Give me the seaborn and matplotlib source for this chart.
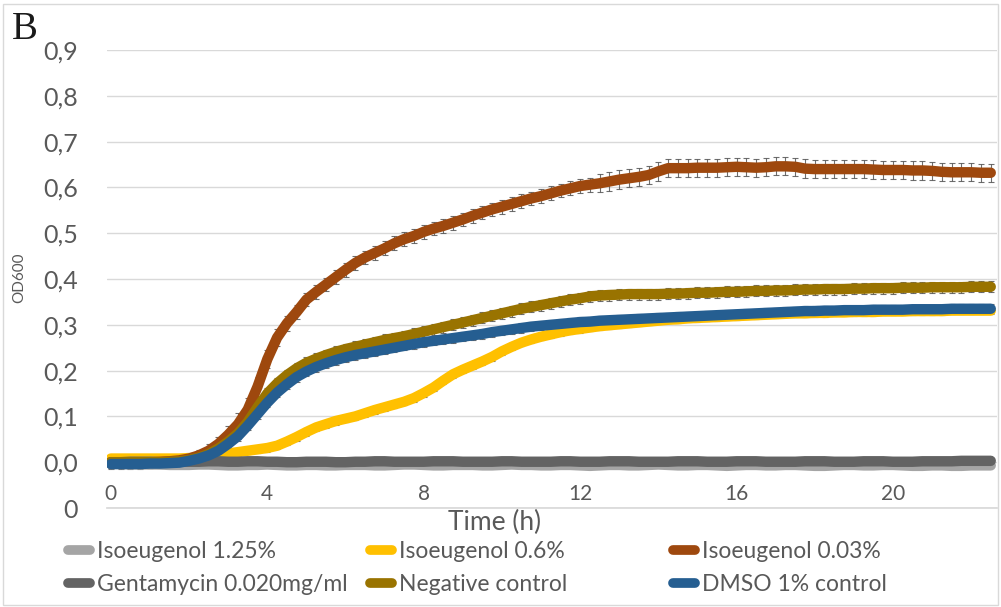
import numpy as np
import pandas as pd
import seaborn as sns
import matplotlib.pyplot as plt
from matplotlib.lines import Line2D
from matplotlib.patches import Rectangle

# readings every 15 min, 0 -> 22.5 h
time = np.arange(0, 22.51, 0.25)

iso_125 = [-0.004, -0.004, -0.005, -0.005, -0.005, -0.005, -0.006, -0.006, -0.006, -0.005,
           -0.005, -0.006, -0.007, -0.007, -0.006, -0.006, -0.005, -0.006, -0.007, -0.007,
           -0.006, -0.006, -0.007, -0.007, -0.006, -0.006, -0.006, -0.007, -0.007, -0.006,
           -0.005, -0.005, -0.006, -0.007, -0.007, -0.006, -0.006, -0.006, -0.007, -0.007,
           -0.006, -0.005, -0.006, -0.006, -0.007, -0.007, -0.006, -0.006, -0.007, -0.008,
           -0.007, -0.006, -0.006, -0.007, -0.007, -0.006, -0.005, -0.006, -0.007, -0.007,
           -0.006, -0.006, -0.007, -0.008, -0.007, -0.006, -0.006, -0.007, -0.007, -0.006,
           -0.006, -0.007, -0.008, -0.008, -0.007, -0.006, -0.006, -0.007, -0.007, -0.006,
           -0.006, -0.007, -0.008, -0.008, -0.007, -0.007, -0.008, -0.008, -0.007, -0.007,
           -0.007]
iso_06 = [0.008, 0.008, 0.008, 0.008, 0.008, 0.008, 0.008, 0.008, 0.009, 0.010,
          0.012, 0.015, 0.019, 0.022, 0.025, 0.028, 0.031, 0.036, 0.045, 0.055,
          0.066, 0.076, 0.083, 0.090, 0.095, 0.100, 0.107, 0.114, 0.120, 0.126,
          0.132, 0.140, 0.151, 0.163, 0.178, 0.192, 0.202, 0.211, 0.220, 0.230,
          0.242, 0.252, 0.261, 0.268, 0.274, 0.279, 0.284, 0.288, 0.291, 0.294,
          0.297, 0.299, 0.301, 0.303, 0.305, 0.307, 0.309, 0.311, 0.312, 0.314,
          0.315, 0.316, 0.317, 0.318, 0.319, 0.320, 0.321, 0.322, 0.323, 0.324,
          0.325, 0.325, 0.326, 0.326, 0.327, 0.327, 0.328, 0.328, 0.328, 0.329,
          0.329, 0.329, 0.330, 0.330, 0.330, 0.330, 0.331, 0.331, 0.331, 0.331,
          0.331]
iso_003 = [0.000, 0.000, 0.000, 0.000, 0.000, 0.001, 0.002, 0.004, 0.008, 0.015,
           0.025, 0.040, 0.060, 0.083, 0.115, 0.165, 0.225, 0.272, 0.303, 0.328,
           0.355, 0.372, 0.388, 0.404, 0.420, 0.435, 0.447, 0.457, 0.467, 0.478,
           0.487, 0.494, 0.503, 0.510, 0.516, 0.523, 0.530, 0.538, 0.545, 0.552,
           0.558, 0.564, 0.570, 0.576, 0.581, 0.587, 0.593, 0.598, 0.603, 0.606,
           0.609, 0.613, 0.617, 0.620, 0.623, 0.627, 0.635, 0.642, 0.642, 0.642,
           0.643, 0.643, 0.643, 0.644, 0.645, 0.644, 0.643, 0.644, 0.646, 0.646,
           0.645, 0.641, 0.640, 0.640, 0.640, 0.640, 0.640, 0.640, 0.639, 0.638,
           0.638, 0.638, 0.637, 0.637, 0.636, 0.634, 0.633, 0.633, 0.633, 0.632,
           0.632]
genta = [0.000, 0.000, 0.001, 0.001, 0.001, 0.000, 0.000, 0.001, 0.001, 0.001,
         0.002, 0.002, 0.001, 0.001, 0.002, 0.002, 0.001, 0.001, 0.000, 0.000,
         0.001, 0.001, 0.001, 0.000, 0.000, 0.001, 0.001, 0.002, 0.002, 0.001,
         0.001, 0.001, 0.001, 0.002, 0.002, 0.002, 0.001, 0.001, 0.001, 0.001,
         0.002, 0.002, 0.001, 0.001, 0.001, 0.001, 0.002, 0.002, 0.001, 0.001,
         0.001, 0.002, 0.002, 0.002, 0.001, 0.001, 0.001, 0.001, 0.002, 0.002,
         0.002, 0.001, 0.001, 0.001, 0.002, 0.002, 0.002, 0.001, 0.001, 0.001,
         0.001, 0.002, 0.002, 0.002, 0.001, 0.001, 0.001, 0.002, 0.002, 0.002,
         0.001, 0.001, 0.001, 0.002, 0.002, 0.002, 0.002, 0.003, 0.003, 0.003,
         0.003]
neg_ctrl = [0.000, 0.000, 0.000, 0.000, 0.000, 0.000, 0.001, 0.002, 0.005, 0.010,
            0.018, 0.030, 0.045, 0.063, 0.088, 0.120, 0.150, 0.172, 0.190, 0.205,
            0.217, 0.226, 0.234, 0.241, 0.247, 0.252, 0.257, 0.262, 0.267, 0.271,
            0.275, 0.280, 0.285, 0.290, 0.295, 0.300, 0.305, 0.310, 0.315, 0.320,
            0.325, 0.330, 0.335, 0.339, 0.343, 0.347, 0.351, 0.355, 0.358, 0.362,
            0.364, 0.365, 0.366, 0.367, 0.367, 0.367, 0.367, 0.368, 0.368, 0.369,
            0.370, 0.370, 0.371, 0.372, 0.372, 0.373, 0.374, 0.374, 0.375, 0.375,
            0.376, 0.377, 0.377, 0.378, 0.378, 0.378, 0.379, 0.379, 0.380, 0.380,
            0.380, 0.381, 0.381, 0.381, 0.382, 0.382, 0.382, 0.382, 0.383, 0.383,
            0.383]
dmso = [-0.004, -0.004, -0.004, -0.004, -0.003, -0.003, -0.002, -0.001, 0.003, 0.008,
        0.015, 0.025, 0.040, 0.057, 0.080, 0.105, 0.130, 0.152, 0.170, 0.186,
        0.198, 0.208, 0.216, 0.223, 0.229, 0.234, 0.238, 0.242, 0.246, 0.250,
        0.254, 0.258, 0.262, 0.265, 0.268, 0.271, 0.274, 0.277, 0.280, 0.284,
        0.287, 0.290, 0.293, 0.296, 0.298, 0.300, 0.302, 0.304, 0.306, 0.307,
        0.309, 0.310, 0.311, 0.312, 0.313, 0.314, 0.315, 0.316, 0.317, 0.318,
        0.319, 0.320, 0.321, 0.322, 0.323, 0.324, 0.325, 0.326, 0.327, 0.328,
        0.329, 0.330, 0.330, 0.331, 0.331, 0.332, 0.332, 0.332, 0.333, 0.333,
        0.333, 0.333, 0.334, 0.334, 0.334, 0.334, 0.335, 0.335, 0.335, 0.335,
        0.335]

# standard deviations
err_003 = [0.012] * 10 + [0.014, 0.016, 0.020, 0.025, 0.025, 0.022, 0.020, 0.018, 0.016, 0.015] \
          + [0.015] * 30 + [0.020] * 41
err_06 = 0.008
err_neg = 0.012
err_dmso = 0.010
err_genta = 0.004
err_125 = 0.004

labels = ["Isoeugenol 1.25%", "Isoeugenol 0.6%", "Isoeugenol 0.03%",
          "Gentamycin 0.020mg/ml", "Negative control", "DMSO 1% control"]
colors = ["#A5A5A5", "#FFC000", "#9E480E", "#636363", "#997300", "#255E91"]
series = [iso_125, iso_06, iso_003, genta, neg_ctrl, dmso]
errors = [err_125, err_06, err_003, err_genta, err_neg, err_dmso]

df = pd.concat([pd.DataFrame({"time": time, "od": s, "series": lab})
                for s, lab in zip(series, labels)], ignore_index=True)

sns.set_theme(style="white")
plt.rcParams["font.family"] = ["Lato", "DejaVu Sans"]
txt = "#595959"
grid = "#d9d9d9"

fig = plt.figure(figsize=(10.01, 6.07), dpi=100)
ax = fig.add_axes([107 / 1001, 1 - 508 / 607, (997 - 107) / 1001, (508 - 50) / 607])

for s, e in zip(series, errors):
    ax.errorbar(time, s, yerr=e, fmt="none", ecolor="#555555", elinewidth=0.8,
                capsize=2.5, capthick=0.8, alpha=0.85, zorder=1)

sns.lineplot(data=df, x="time", y="od", hue="series", hue_order=labels,
             palette=colors, linewidth=7.5, legend=False, ax=ax, zorder=3)
for ln in ax.lines:
    ln.set_solid_capstyle("round")
    ln.set_solid_joinstyle("round")

ax.set_xlim(-0.1, 22.66)
ax.set_ylim(-0.1, 0.9)
yt = np.round(np.arange(-0.1, 0.91, 0.1), 1)
ax.set_yticks(yt)
ax.set_yticklabels(["0"] + [f"{v:.1f}".replace(".", ",") for v in yt[1:]])
ax.set_xticks([0, 4, 8, 12, 16, 20])
ax.set_xlabel("")
ax.set_ylabel("")
ax.yaxis.grid(True, color=grid, lw=1)
ax.xaxis.grid(False)
for side in ["left", "right", "top"]:
    ax.spines[side].set_visible(False)
ax.spines["bottom"].set_color(grid)
ax.tick_params(axis="y", length=0, pad=21, labelsize=18, labelcolor=txt)
ax.tick_params(axis="x", length=0, pad=-17, labelsize=15, labelcolor=txt)

fig.text(495 / 1001, 1 - 522 / 607, "Time (h)", ha="center", va="center",
         fontsize=19, color=txt)
fig.text(19 / 1001, 1 - 278 / 607, "OD600", rotation=90, ha="center", va="center",
         fontsize=11, color=txt)
fig.text(12 / 1001, 1 - 11 / 607, "B", ha="left", va="top", fontsize=28,
         family=["Liberation Serif"], color="#1a1a1a")

# legend: three columns of two entries
for col, x0 in enumerate([68, 370, 673]):
    idx = [col, col + 3]
    hs = [Line2D([], [], color=colors[i], lw=7, solid_capstyle="round") for i in idx]
    fig.legend(hs, [labels[i] for i in idx], loc="center left",
               bbox_to_anchor=(x0 / 1001, 1 - 568 / 607), frameon=False,
               fontsize=16.5, labelcolor=txt, handlelength=0.95, handletextpad=0.3,
               borderpad=0, borderaxespad=0, labelspacing=0.5)

fig.patches.append(Rectangle((3 / 1001, 2 / 607), 995 / 1001, 601 / 607,
                             transform=fig.transFigure, fill=False,
                             edgecolor=grid, lw=1))

fig.savefig("out.png", dpi=100)
